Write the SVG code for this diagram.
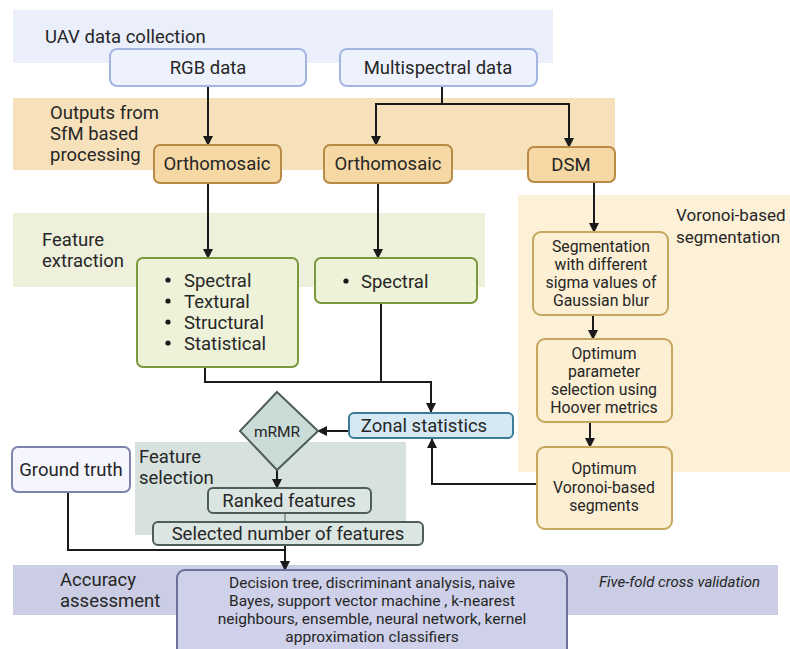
<svg xmlns="http://www.w3.org/2000/svg" width="790" height="649" viewBox="0 0 790 649">
<defs>
<marker id="ah" viewBox="0 0 10 10" refX="9" refY="5" markerWidth="10" markerHeight="10" markerUnits="userSpaceOnUse" orient="auto">
<path d="M0,0 L10,5 L0,10 z" fill="#1a1a1a"/>
</marker>
<style>
text{font-family:Roboto,"Liberation Sans",sans-serif;fill:#262626}
.lbl{font-size:18.5px}
.big{font-size:18.5px}
.sm{font-size:15.8px}
.cls{font-size:15.5px}
.c{text-anchor:middle}
.con{fill:none;stroke:#1a1a1a;stroke-width:2}
.conA{fill:none;stroke:#1a1a1a;stroke-width:2;marker-end:url(#ah)}
.uav{fill:#eef2fd;stroke:#a3b6e2;stroke-width:2}
.sfm{fill:#f5d8a4;stroke:#b98a45;stroke-width:2}
.fe{fill:#eef2d9;stroke:#7a983c;stroke-width:2}
.vor{fill:#fcefd3;stroke:#c6a75e;stroke-width:2}
.fs{fill:#dbe6e3;stroke:#4d5d5a;stroke-width:2}
</style>
</defs>
<rect width="790" height="649" fill="#ffffff"/>
<!-- bands -->
<g id="bands">
<rect x="13" y="10" width="540" height="53" fill="#ebeffc"/>
<rect x="13" y="98" width="602" height="72" fill="#f7e1ba"/>
<rect x="13" y="213" width="472" height="74" fill="#eef0db"/>
<rect x="518" y="195" width="272" height="277" fill="#fcf0d7"/>
<rect x="135" y="442" width="271" height="93" fill="#d7e2df"/>
<rect x="13" y="565" width="765" height="50" fill="#cacde4"/>
<text class="lbl" x="45" y="43">UAV data collection</text>
<text class="lbl" x="50" y="119">Outputs from</text>
<text class="lbl" x="50" y="140">SfM based</text>
<text class="lbl" x="50" y="161">processing</text>
<text class="lbl" x="42" y="246">Feature</text>
<text class="lbl" x="42" y="267">extraction</text>
<text x="676" y="221" style="font-size:17px">Voronoi-based</text>
<text x="676" y="243" style="font-size:17px">segmentation</text>
<text class="lbl" x="139" y="463">Feature</text>
<text class="lbl" x="139" y="484">selection</text>
<text class="lbl" x="60" y="586">Accuracy</text>
<text class="lbl" x="60" y="607">assessment</text>
<text x="599" y="587" style="font-size:15px;font-style:italic">Five-fold cross validation</text>
</g>
<!-- connectors -->
<g id="connectors">
<line class="conA" x1="208" y1="86" x2="208" y2="145"/>
<line class="con" x1="442" y1="86" x2="442" y2="104"/>
<polyline class="conA" points="376,104 376,145"/>
<polyline class="con" points="375,104 570,104"/>
<polyline class="conA" points="569,104 569,147"/>
<line class="conA" x1="208" y1="183" x2="208" y2="258"/>
<line class="conA" x1="378" y1="183" x2="378" y2="258"/>
<line class="conA" x1="594" y1="182" x2="594" y2="232"/>
<line class="conA" x1="593" y1="315" x2="593" y2="339"/>
<line class="conA" x1="590" y1="422" x2="590" y2="447"/>
<polyline class="con" points="205,367 205,382 432,382"/>
<line class="con" x1="381" y1="303" x2="381" y2="382"/>
<polyline class="conA" points="431,381 431,412"/>
<polyline class="conA" points="537,484 432,484 432,439"/>
<line class="conA" x1="349" y1="431" x2="318" y2="431"/>
<line class="conA" x1="277" y1="470" x2="277" y2="488"/>
<line x1="285" y1="513" x2="285" y2="522" stroke="#4d5d5a" stroke-width="1"/>
<polyline class="con" points="68,492 68,550 286,550"/>
<line class="conA" x1="285" y1="545" x2="285" y2="570"/>
</g>
<!-- nodes -->
<g id="rgb">
<rect class="uav" x="110" y="49" width="196" height="37" rx="7"/>
<text class="big c" x="208" y="74">RGB data</text>
</g>
<g id="multispectral">
<rect class="uav" x="340" y="49" width="197" height="37" rx="7"/>
<text class="big c" x="438" y="74">Multispectral data</text>
</g>
<g id="ortho1">
<rect class="sfm" x="154" y="145" width="127" height="38" rx="6"/>
<text class="big c" x="217" y="170">Orthomosaic</text>
</g>
<g id="ortho2">
<rect class="sfm" x="324" y="145" width="128" height="38" rx="6"/>
<text class="big c" x="388" y="170">Orthomosaic</text>
</g>
<g id="dsm">
<rect class="sfm" x="528" y="147" width="87" height="35" rx="6"/>
<text class="big c" x="571" y="171">DSM</text>
</g>
<g id="features1">
<rect class="fe" x="137" y="258" width="161" height="109" rx="6"/>
<circle cx="168" cy="280" r="2.6" fill="#1a1a1a"/>
<circle cx="168" cy="301" r="2.6" fill="#1a1a1a"/>
<circle cx="168" cy="322" r="2.6" fill="#1a1a1a"/>
<circle cx="168" cy="343" r="2.6" fill="#1a1a1a"/>
<text class="big" x="184" y="287">Spectral</text>
<text class="big" x="184" y="308">Textural</text>
<text class="big" x="184" y="329">Structural</text>
<text class="big" x="184" y="350">Statistical</text>
</g>
<g id="features2">
<rect class="fe" x="315" y="258" width="162" height="45" rx="6"/>
<circle cx="346" cy="281" r="2.6" fill="#1a1a1a"/>
<text class="big" x="361" y="288">Spectral</text>
</g>
<g id="segmentation">
<rect class="vor" x="533" y="232" width="135" height="83" rx="8"/>
<text class="sm c" x="601" y="252">Segmentation</text>
<text class="sm c" x="601" y="270">with different</text>
<text class="sm c" x="601" y="288">sigma values of</text>
<text class="sm c" x="601" y="306">Gaussian blur</text>
</g>
<g id="parameter">
<rect class="vor" x="537" y="339" width="135" height="83" rx="8"/>
<text class="sm c" x="604" y="359">Optimum</text>
<text class="sm c" x="604" y="377">parameter</text>
<text class="sm c" x="604" y="395">selection using</text>
<text class="sm c" x="604" y="413">Hoover metrics</text>
</g>
<g id="segments">
<rect class="vor" x="537" y="447" width="135" height="82" rx="8"/>
<text class="sm c" x="604" y="474">Optimum</text>
<text class="sm c" x="604" y="493">Voronoi-based</text>
<text class="sm c" x="604" y="511">segments</text>
</g>
<g id="zonal">
<rect x="349" y="413" width="164" height="25" rx="5" fill="#d4e9f4" stroke="#3b7d97" stroke-width="2"/>
<text class="big c" x="424" y="432">Zonal statistics</text>
</g>
<g id="mrmr">
<polygon points="277,392 318,431 277,470 240,431" fill="#cbdcd8" stroke="#4d5d5a" stroke-width="2"/>
<text class="c" x="277" y="437" style="font-size:15.5px">mRMR</text>
</g>
<g id="groundtruth">
<rect x="12" y="447" width="118" height="45" rx="6" fill="#f4f5fd" stroke="#7d83ad" stroke-width="2"/>
<text class="big c" x="71" y="476">Ground truth</text>
</g>
<g id="ranked">
<rect class="fs" x="208" y="488" width="163" height="25" rx="5"/>
<text class="big c" x="289" y="507">Ranked features</text>
</g>
<g id="selected">
<rect class="fs" x="153" y="522" width="270" height="23" rx="5"/>
<text class="big c" x="288" y="540">Selected number of features</text>
</g>
<g id="classifiers">
<rect x="177" y="570" width="390" height="90" rx="8" fill="#ced1e9" stroke="#6c7099" stroke-width="2"/>
<text class="cls c" x="372" y="588">Decision tree, discriminant analysis, naive</text>
<text class="cls c" x="372" y="606">Bayes, support vector machine , k-nearest</text>
<text class="cls c" x="372" y="624">neighbours, ensemble, neural network, kernel</text>
<text class="cls c" x="372" y="642">approximation classifiers</text>
</g>
</svg>
